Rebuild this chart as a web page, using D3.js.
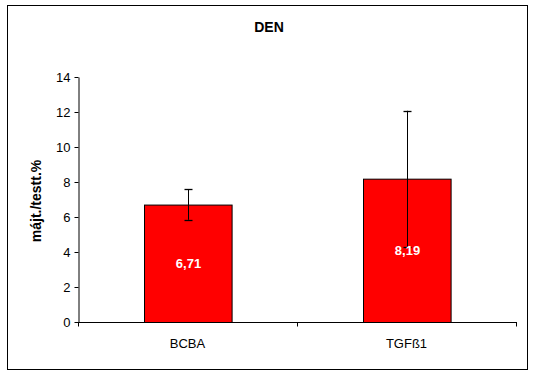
<!DOCTYPE html>
<html><head><meta charset="utf-8">
<script src="https://cdn.jsdelivr.net/npm/d3@7"></script>
<style>body{margin:0;background:#fff;} text{font-family:"Liberation Sans",Arial,sans-serif;}</style>
</head><body>
<svg id="c" width="535" height="372"></svg>
<script>
const categories = ["BCBA", "TGFß1"];
const values = [6.71, 8.19];
const errors = [0.87, 3.88];
const valueLabels = ["6,71", "8,19"];
const yTicks = [0, 2, 4, 6, 8, 10, 12, 14];
const title = "DEN";
const yTitle = "májt./testt.%";

const svg = d3.select("#c");
svg.append("rect").attr("x", 7.5).attr("y", 5.5).attr("width", 520).attr("height", 364)
  .attr("fill", "#fff").attr("stroke", "#000").attr("stroke-width", 1);

const m = {left: 78, right: 516, top: 77, bottom: 322};
const x = d3.scaleBand().domain(categories).range([m.left, m.right]).paddingInner(0.6).paddingOuter(0.3);
const y = d3.scaleLinear().domain([0, 14]).range([m.bottom, m.top]);

// y axis
const ya = svg.append("g").attr("transform", `translate(${m.left + 0.5},0)`)
  .call(d3.axisLeft(y).tickValues(yTicks).tickSize(4).tickPadding(4).tickSizeOuter(0));
ya.select(".domain").attr("stroke", "#000");
ya.selectAll("text").attr("font-size", 13).attr("fill", "#000").style("font-family", "Liberation Sans, Arial");

// bars
const g = svg.append("g");
g.selectAll("rect.bar").data(values).join("rect").attr("class", "bar")
  .attr("x", (d, i) => Math.round(x(categories[i])) + 0.5)
  .attr("y", d => y(d) + 0.5)
  .attr("width", x.bandwidth())
  .attr("height", d => y(0) - y(d))
  .attr("fill", "#ff0000").attr("stroke", "#000").attr("stroke-width", 1);

// error bars
const cx = i => Math.round(x(categories[i]) + x.bandwidth() / 2) + 0.5;
values.forEach((v, i) => {
  const hi = y(v + errors[i]), lo = y(v - errors[i]);
  g.append("line").attr("x1", cx(i)).attr("x2", cx(i)).attr("y1", hi).attr("y2", lo).attr("stroke", "#000").attr("stroke-width", 1);
  [hi, lo].forEach(yy => g.append("line").attr("x1", cx(i) - 4).attr("x2", cx(i) + 4).attr("y1", Math.round(yy) + 0.5).attr("y2", Math.round(yy) + 0.5).attr("stroke", "#000").attr("stroke-width", 1.3));
});

// value labels
g.selectAll("text.vl").data(values).join("text").attr("class", "vl")
  .attr("x", (d, i) => cx(i))
  .attr("y", d => (y(0) + y(d)) / 2)
  .attr("dy", "0.35em")
  .attr("text-anchor", "middle").attr("font-size", 13).attr("font-weight", "bold").attr("fill", "#fff")
  .text((d, i) => valueLabels[i]);

// x axis
const xa = svg.append("g").attr("transform", `translate(0,${m.bottom + 0.5})`);
xa.append("line").attr("x1", m.left).attr("x2", m.right + 1).attr("stroke", "#000");
const xTickPos = [m.left, (m.left + m.right) / 2, m.right];
xa.selectAll("line.t").data(xTickPos).join("line").attr("class", "t")
  .attr("x1", d => Math.round(d) + 0.5).attr("x2", d => Math.round(d) + 0.5).attr("y1", 0).attr("y2", 4).attr("stroke", "#000");
xa.selectAll("text").data(categories).join("text")
  .attr("x", d => x(d) + x.bandwidth() / 2).attr("y", 25)
  .attr("text-anchor", "middle").attr("font-size", 13).attr("fill", "#000").text(d => d);

// titles
svg.append("text").attr("x", 269).attr("y", 32).attr("text-anchor", "middle")
  .attr("font-size", 14).attr("font-weight", "bold").text(title);
svg.append("text").attr("transform", "translate(41,201) rotate(-90)").attr("text-anchor", "middle")
  .attr("font-size", 14).attr("font-weight", "bold").text(yTitle);
</script>
</body></html>
